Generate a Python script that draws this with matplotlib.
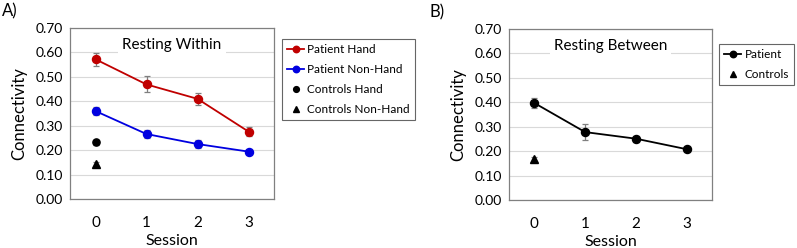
import matplotlib.pyplot as plt
import numpy as np

plt.rcParams['font.family'] = ['Lato', 'DejaVu Sans']

sessions = [0, 1, 2, 3]
y_ticks = [0.0, 0.1, 0.2, 0.3, 0.4, 0.5, 0.6, 0.7]

# panel A: resting within
hand_mean = [0.572, 0.469, 0.410, 0.276]
hand_err = [0.027, 0.033, 0.025, 0.020]
nonhand_mean = [0.360, 0.266, 0.225, 0.194]
nonhand_err = [0.017, 0.018, 0.015, 0.006]
ctrl_hand_mean = [0.233]
ctrl_hand_err = [0.010]
ctrl_nonhand_mean = [0.145]
ctrl_nonhand_err = [0.008]

# panel B: resting between
between_mean = [0.397, 0.278, 0.251, 0.208]
between_err = [0.021, 0.033, 0.013, 0.009]
ctrl_between_mean = [0.167]
ctrl_between_err = [0.010]

fig = plt.figure(figsize=(7.97, 2.48), dpi=100)
W, H = 797, 248


def make_axes(left, right, top, bottom):
    return fig.add_axes([left / W, 1 - bottom / H, (right - left) / W, (bottom - top) / H])


def style_axes(ax, title):
    ax.set_xlim(-0.5, 3.5)
    ax.set_ylim(0, 0.7)
    ax.set_xticks(sessions)
    ax.set_yticks(y_ticks)
    ax.set_yticklabels([f'{v:.2f}' for v in y_ticks])
    ax.tick_params(length=0, labelsize=10, pad=5)
    ax.tick_params(axis='x', pad=12, labelsize=11)
    ax.grid(True, axis='y', color='#d9d9d9', lw=0.8)
    ax.set_axisbelow(True)
    for s in ax.spines.values():
        s.set_color('#808080')
        s.set_linewidth(0.9)
    ax.set_xlabel('Session', fontsize=11.5, labelpad=3)
    ax.set_ylabel('Connectivity', fontsize=12, labelpad=6)
    ax.text(0.5, 0.9, title, transform=ax.transAxes, ha='center', va='center',
            fontsize=11, bbox=dict(facecolor='white', edgecolor='none', pad=3))


err_kw = dict(ecolor='#7f7f7f', elinewidth=0.9, capsize=2.2, capthick=0.9)
leg_kw = dict(loc='upper left', bbox_transform=fig.transFigure, fontsize=8.5, frameon=True,
              fancybox=False, edgecolor='#404040', handlelength=1.4, handletextpad=0.3,
              labelspacing=0.75, borderpad=0.45, borderaxespad=0, markerscale=0.8)

axA = make_axes(70, 274, 28, 199)
style_axes(axA, 'Resting Within')
axA.errorbar(sessions, hand_mean, yerr=hand_err, color='#c00000', marker='o',
             markersize=5.8, lw=1.3, label='Patient Hand', **err_kw)
axA.errorbar(sessions, nonhand_mean, yerr=nonhand_err, color='#0000e0', marker='o',
             markersize=5.8, lw=1.3, label='Patient Non-Hand', **err_kw)
axA.errorbar(sessions[:1], ctrl_hand_mean, yerr=ctrl_hand_err, color='black', marker='o',
             markersize=5.2, ls='none', label='Controls Hand', **err_kw)
axA.errorbar(sessions[:1], ctrl_nonhand_mean, yerr=ctrl_nonhand_err, color='black', marker='^',
             markersize=6, ls='none', label='Controls Non-Hand', **err_kw)
axA.text(-0.335, 1.1, 'A)', transform=axA.transAxes, fontsize=12, ha='left', va='center')

hA, lA = axA.get_legend_handles_labels()
legA = axA.legend([h[0] for h in hA], lA, bbox_to_anchor=(282 / W, 1 - 39 / H), **leg_kw)
legA.get_frame().set_linewidth(0.8)

axB = make_axes(509, 712, 29, 200)
style_axes(axB, 'Resting Between')
axB.errorbar(sessions, between_mean, yerr=between_err, color='black', marker='o',
             markersize=5.8, lw=1.3, label='Patient', **err_kw)
axB.errorbar(sessions[:1], ctrl_between_mean, yerr=ctrl_between_err, color='black', marker='^',
             markersize=6, ls='none', label='Controls', **err_kw)
axB.text(-0.39, 1.1, 'B)', transform=axB.transAxes, fontsize=12, ha='left', va='center')

hB, lB = axB.get_legend_handles_labels()
legB = axB.legend([h[0] for h in hB], lB, bbox_to_anchor=(719 / W, 1 - 44 / H), **leg_kw)
legB.get_frame().set_linewidth(0.8)

fig.savefig('out.png', dpi=100, facecolor='white')
